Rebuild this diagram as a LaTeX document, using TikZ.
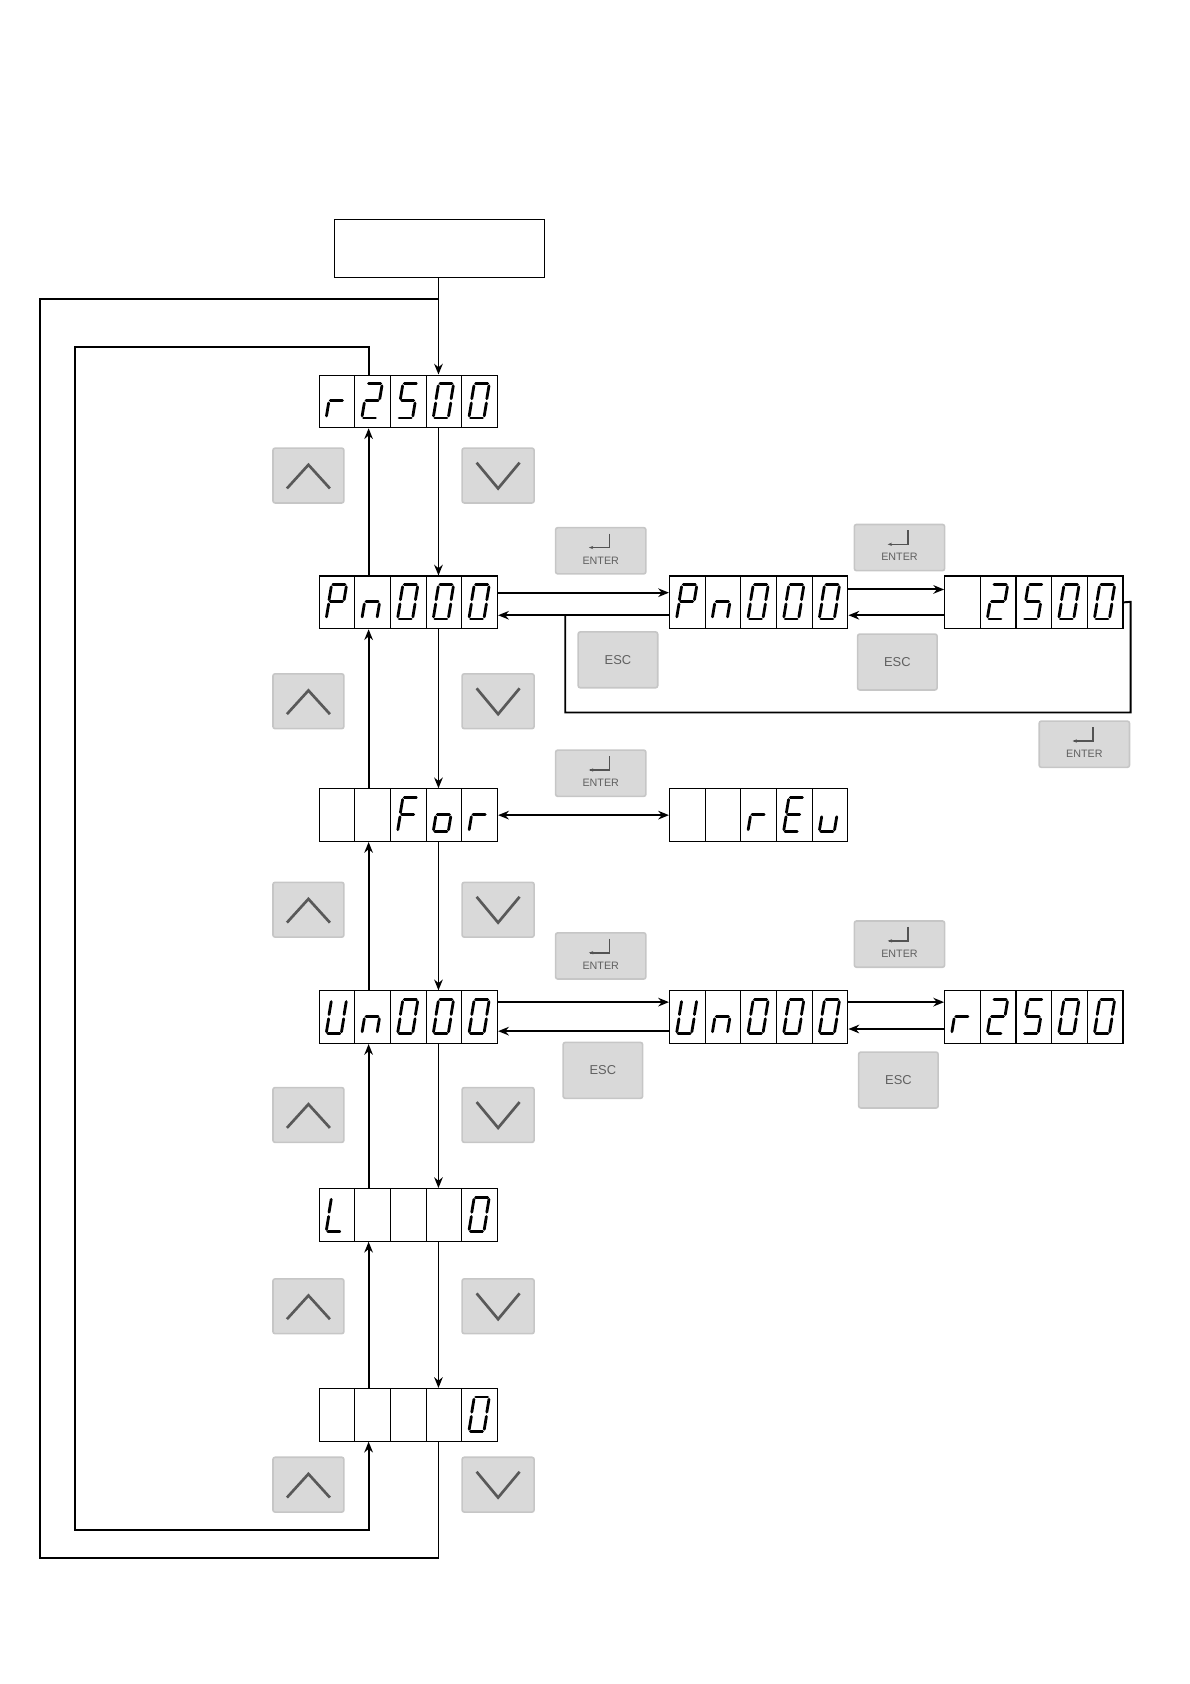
\documentclass[tikz,border=0pt]{standalone}
\usepackage{fontspec}
\setmainfont{Liberation Sans}
\usetikzlibrary{arrows.meta}
\begin{document}
\begin{tikzpicture}[x=1pt,y=-1pt,
  segline/.style={line width=2.6pt,line cap=round},
  wire/.style={line width=1.8pt},
  arr/.style={wire,-{Stealth[length=10pt,width=8pt]}},
  dispbox/.style={draw,line width=1pt,minimum width=166pt,minimum height=49pt,inner sep=0pt},
  btn/.style={draw=gray!45,line width=1.5pt,fill=gray!30,rounded corners=2pt,inner sep=0pt},
  btntxt/.style={text=gray!75!black,font=\large}]
\useasboundingbox (0,0) rectangle (1107,1567);
\newcommand\sga{\draw[segline] (12.8,8)--(24,8);}
\newcommand\sgb{\draw[segline] (25.2,10)--(23.2,22);}
\newcommand\sgc{\draw[segline] (22.8,26)--(20.8,38);}
\newcommand\sgd{\draw[segline] (8,40)--(19.2,40);}
\newcommand\sge{\draw[segline] (8.8,26)--(6.8,38);}
\newcommand\sgf{\draw[segline] (11.2,10)--(9.2,22);}
\newcommand\sgg{\draw[segline] (10.4,24)--(21.6,24);}
\newcommand\sgx{}
\newcommand\disp[4]{%
  \node[dispbox] (#3) at (#1+83,#2+24.5) {};
  \foreach \k in {1,2,3,4} {\draw[line width=1pt] (#1+\k*33.2,#2)--++(0,49);}
  \foreach \c [count=\i from 0] in {#4} {
    \begin{scope}[shift={(#1+\i*33.2,#2)}]
      \foreach \s in \c {\csname sg\s\endcsname}
    \end{scope}}}
\newcommand\upbtn[3]{\node[btn,minimum width=66pt,minimum height=51pt] (#3) at (#1+33,#2+25.5) {};
  \draw[gray!70!black,line width=2.5pt] ([shift={(-20,12)}]#3.center)--([shift={(0,-10)}]#3.center)--([shift={(20,12)}]#3.center);}
\newcommand\dnbtn[3]{\node[btn,minimum width=67pt,minimum height=51pt] (#3) at (#1+33.5,#2+25.5) {};
  \draw[gray!70!black,line width=2.5pt] ([shift={(-20,-12)}]#3.center)--([shift={(0,12)}]#3.center)--([shift={(20,-12)}]#3.center);}
\newcommand\entbtn[3]{\node[btn,minimum width=84pt,minimum height=43pt] (#3) at (#1+42,#2+21.5) {};
  \node[btntxt,font=\normalsize] at ([yshift=-9]#3.center) {ENTER};
  \draw[gray!65!black,line width=1.5pt] ([shift={(8,-16)}]#3.center)--([shift={(8,-3)}]#3.center)--([shift={(-10,-3)}]#3.center);
  \draw[gray!65!black,line width=1pt,-{Stealth[length=4pt]}] ([shift={(-2,-3)}]#3.center)--([shift={(-11,-3)}]#3.center);}
\newcommand\escbtn[3]{\node[btn,minimum width=74pt,minimum height=52pt] (#3) at (#1+37,#2+26) {};
  \node[btntxt] at (#3.center) {ESC};}
% top box
\node[draw,line width=1pt,minimum width=196pt,minimum height=54pt] (top) at (409,231) {};
\coordinate (dn) at (408,0);
\coordinate (up) at (343,0);
% displays
\disp{297}{349}{d1}{{e,g},{a,b,g,e,d},{a,f,g,c,d},{a,b,c,d,e,f},{a,b,c,d,e,f}}
\disp{297}{536}{d2}{{a,b,f,g,e},{e,g,c},{a,b,c,d,e,f},{a,b,c,d,e,f},{a,b,c,d,e,f}}
\disp{297}{734}{d3}{{x},{x},{a,f,g,e},{g,c,d,e},{e,g}}
\disp{297}{922}{d4}{{b,c,d,e,f},{e,g,c},{a,b,c,d,e,f},{a,b,c,d,e,f},{a,b,c,d,e,f}}
\disp{297}{1106}{d5}{{f,e,d},{x},{x},{x},{a,b,c,d,e,f}}
\disp{297}{1292}{d6}{{x},{x},{x},{x},{a,b,c,d,e,f}}
\disp{623}{536}{d7}{{a,b,f,g,e},{e,g,c},{a,b,c,d,e,f},{a,b,c,d,e,f},{a,b,c,d,e,f}}
\disp{879}{536}{d8}{{x},{a,b,g,e,d},{a,f,g,c,d},{a,b,c,d,e,f},{a,b,c,d,e,f}}
\disp{623}{734}{d9}{{x},{x},{e,g},{a,f,g,e,d},{e,d,c}}
\disp{623}{922}{d10}{{b,c,d,e,f},{e,g,c},{a,b,c,d,e,f},{a,b,c,d,e,f},{a,b,c,d,e,f}}
\disp{879}{922}{d11}{{e,g},{a,b,g,e,d},{a,f,g,c,d},{a,b,c,d,e,f},{a,b,c,d,e,f}}
% buttons
\upbtn{254}{417}{u1} \upbtn{254}{627}{u2} \upbtn{254}{821}{u3}
\upbtn{254}{1012}{u4} \upbtn{254}{1190}{u5} \upbtn{254}{1356}{u6}
\dnbtn{430}{417}{v1} \dnbtn{430}{627}{v2} \dnbtn{430}{821}{v3}
\dnbtn{430}{1012}{v4} \dnbtn{430}{1190}{v5} \dnbtn{430}{1356}{v6}
\entbtn{517}{491}{e1} \entbtn{795}{488}{e2} \entbtn{967}{671}{e3}
\entbtn{517}{698}{e4} \entbtn{517}{868}{e5} \entbtn{795}{857}{e6}
\escbtn{538}{588}{s1} \escbtn{798}{590}{s2} \escbtn{524}{970}{s3} \escbtn{799}{979}{s4}
% connectors
\draw[arr] (top.south -| dn) -- (d1.north -| dn);
\draw[wire] (d6.south -| dn) -- (408,1450) -- (37,1450) -- (37,278) -- (408,278);
\draw[arr] (d1.north -| up) -- (343,323) -- (70,323) -- (70,1424) -- (343,1424) -- (d6.south -| up);
\draw[arr] (d1.south -| dn) -- (d2.north -| dn);
\draw[arr] (d2.south -| dn) -- (d3.north -| dn);
\draw[arr] (d3.south -| dn) -- (d4.north -| dn);
\draw[arr] (d4.south -| dn) -- (d5.north -| dn);
\draw[arr] (d5.south -| dn) -- (d6.north -| dn);
\draw[arr] (d2.north -| up) -- (d1.south -| up);
\draw[arr] (d3.north -| up) -- (d2.south -| up);
\draw[arr] (d4.north -| up) -- (d3.south -| up);
\draw[arr] (d5.north -| up) -- (d4.south -| up);
\draw[arr] (d6.north -| up) -- (d5.south -| up);
\draw[arr] ([yshift=9]d2.east) -- ([yshift=9]d7.west);
\draw[arr] ([yshift=-12]d7.west) -- ([yshift=-12]d2.east);
\draw[arr] ([yshift=12]d7.east) -- ([yshift=12]d8.west);
\draw[arr] ([yshift=-12]d8.west) -- ([yshift=-12]d7.east);
\draw[wire] (d8.east) -- (1052,560) -- (1052,663) -- (526,663) -- (526,573);
\draw[wire,{Stealth[length=10pt,width=8pt]}-{Stealth[length=10pt,width=8pt]}] (d3.east) -- (d9.west);
\draw[arr] ([yshift=14]d4.east) -- ([yshift=14]d10.west);
\draw[arr] ([yshift=-13]d10.west) -- ([yshift=-13]d4.east);
\draw[arr] ([yshift=14]d10.east) -- ([yshift=14]d11.west);
\draw[arr] ([yshift=-11]d11.west) -- ([yshift=-11]d10.east);
\end{tikzpicture}
\end{document}
